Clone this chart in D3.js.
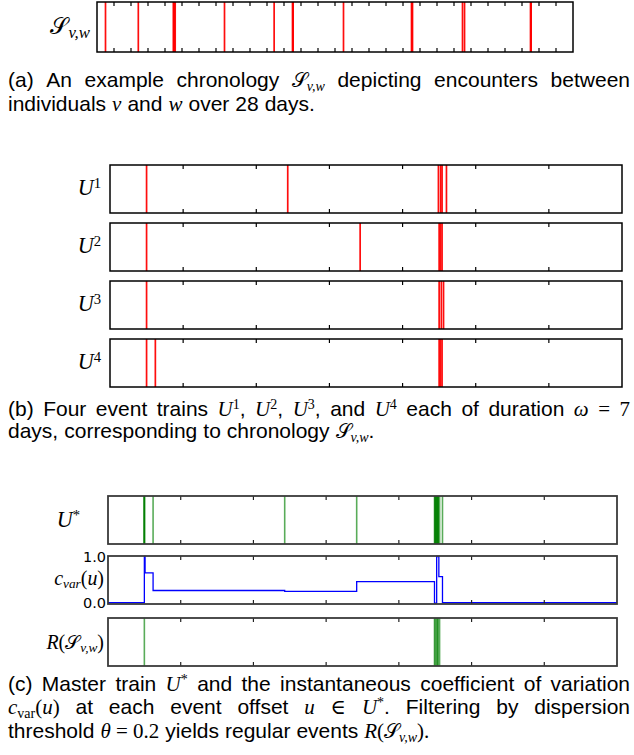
<!DOCTYPE html>
<html><head><meta charset="utf-8">
<script src="https://cdn.jsdelivr.net/npm/d3@7"></script>
<style>
body{margin:0;background:#fff}
svg{display:block}
</style></head>
<body>
<svg id="chart" width="634" height="755"></svg>
<script>
// ---------------- data ----------------
const totalDays = 28;
const omega = 7;
// chronology S_{v,w}: encounter times in days
const chronology = [0.50, 2.43, 4.49, 4.52, 4.54, 4.60, 7.50, 10.42, 11.50, 11.52, 11.54,
  14.50, 18.50, 18.53, 18.56, 21.50, 21.62, 25.50, 25.52, 25.54];
const trainNames = ["1", "2", "3", "4"];
// master train U* offsets
const masterTrain = [0.50, 0.50, 0.50, 0.50, 0.62, 2.43, 3.42,
  4.49, 4.52, 4.54, 4.50, 4.52, 4.54, 4.50, 4.53, 4.56, 4.50, 4.52, 4.54, 4.60];
// instantaneous coefficient of variation (step after)
const cvarU = [0, 0.50, 0.51, 0.62, 2.43, 3.42, 4.49, 4.52, 4.55, 4.60, 7];
const cvarV = [0.01, 1.0, 0.65, 0.27, 0.25, 0.46, 0.0, 1.0, 0.57, 0.01, 0.01];
const cvarTicks = ["0.0", "1.0"];
// regular events R(S_{v,w})
const regularEvents = [0.50, 4.49, 4.50, 4.52, 4.53, 4.54, 4.56];

// ---------------- drawing ----------------
const svg = d3.select("#chart");
const SERIF = "'Liberation Serif','DejaVu Serif',serif";
const SANS = "'Liberation Sans',Arial,sans-serif";
const CAL = "'DejaVu Sans','Noto Sans','Liberation Serif',serif";

function frame(g, x0, y0, x1, y1, col, w) {
  g.append("rect").attr("x", x0).attr("y", y0).attr("width", x1 - x0).attr("height", y1 - y0)
    .attr("fill", "none").attr("stroke", col).attr("stroke-width", w);
}
function ticks(g, x, n, y0, y1, col) {
  const t = d3.range(1, n);
  g.selectAll(null).data(t).join("line")
    .attr("x1", d => x(d)).attr("x2", d => x(d)).attr("y1", y0).attr("y2", y0 + 4)
    .attr("stroke", col).attr("stroke-width", 1.2);
  g.selectAll(null).data(t).join("line")
    .attr("x1", d => x(d)).attr("x2", d => x(d)).attr("y1", y1).attr("y2", y1 - 4)
    .attr("stroke", col).attr("stroke-width", 1.2);
}
function events(g, x, data, y0, y1, col, w, op) {
  g.selectAll(null).data(data).join("line")
    .attr("x1", d => x(d)).attr("x2", d => x(d)).attr("y1", y0).attr("y2", y1)
    .attr("stroke", col).attr("stroke-width", w).attr("stroke-opacity", op);
}

// Rich text: tokens [style, text]
const STY = {
  rm:  {f: SANS, s: 21, it: false, dy: 0},
  mi:  {f: SERIF, s: 21, it: true, dy: 0},
  mr:  {f: SERIF, s: 21, it: false, dy: 0},
  cal: {f: CAL, s: 19.5, it: false, dy: 0},
  sub: {f: SERIF, s: 14, it: true, dy: 3.5},
  subr:{f: SERIF, s: 14, it: false, dy: 3.5},
  sup: {f: SERIF, s: 14, it: false, dy: -7},
};
function addSpans(t, tokens, scale, startX) {
  let cur = 0;
  tokens.forEach(([st, txt], i) => {
    const s = STY[st];
    const target = s.dy * scale;
    const sp = t.append("tspan").attr("dy", target - cur)
      .attr("font-family", s.f).attr("font-size", s.s * scale)
      .attr("font-style", s.it ? "italic" : "normal")
      .style("white-space", "pre")
      .text(txt);
    if (i === 0 && startX != null) sp.attr("x", startX);
    cur = target;
  });
  return cur;
}
function richText(g, tokens, x, y, scale = 1, anchor = "start") {
  const t = g.append("text").attr("x", x).attr("y", y).attr("text-anchor", anchor).attr("fill", "#000");
  addSpans(t, tokens, scale, null);
  return t;
}
function captionLine(words, y, x0, x1, justify) {
  const g = svg.append("g");
  const toks = words.map(w => typeof w === "string" ? [["rm", w]] : w);
  const widths = toks.map(tk => {
    const m = richText(g, tk, 0, y);
    const w = m.node().getComputedTextLength();
    m.remove();
    return w;
  });
  const sum = d3.sum(widths);
  const gap = justify ? (x1 - x0 - sum) / (words.length - 1) : 6;
  const t = g.append("text").attr("y", y).attr("fill", "#000");
  let x = x0, cur = 0;
  toks.forEach((tk, i) => {
    tk.forEach(([st, txt], j) => {
      const s = STY[st];
      const target = s.dy;
      const sp = t.append("tspan").attr("dy", target - cur)
        .attr("font-family", s.f).attr("font-size", s.s)
        .attr("font-style", s.it ? "italic" : "normal")
        .style("white-space", "pre").text(txt);
      if (j === 0) sp.attr("x", x);
      cur = target;
    });
    x += widths[i] + gap;
  });
}

// ---- (a) chronology ----
const xa = d3.scaleLinear().domain([0, totalDays]).range([97, 573]);
const ga = svg.append("g");
events(ga, xa, chronology, 2, 52, "#ff0000", 1.7, 0.95);
ticks(ga, xa, totalDays, 2, 52, "#000");
frame(ga, 97, 2, 573, 52, "#000", 1.5);
richText(ga, [["cal", "𝒮"], ["sub", "v,w"]], 90, 34, 1.2, "end");

captionLine(["(a)", "An", "example", "chronology", [["cal", "𝒮"], ["sub", "v,w"]], "depicting", "encounters", "between"], 87, 8, 630, true);
captionLine(["individuals", [["mi", "v"]], "and", [["mi", "w"]], "over", "28", "days."], 111, 8, 630, false);

// ---- (b) event trains ----
const xb = d3.scaleLinear().domain([0, omega]).range([110, 622]);
trainNames.forEach((nm, k) => {
  const y0 = 165 + k * 58, y1 = y0 + 48;
  const g = svg.append("g");
  const train = chronology.filter(d => d >= k * omega && d < (k + 1) * omega).map(d => d - k * omega);
  events(g, xb, train, y0, y1, "#ff0000", 1.7, 0.95);
  ticks(g, xb, omega, y0, y1, "#000");
  frame(g, 110, y0, 622, y1, "#000", 1.5);
  richText(g, [["mi", "U"], ["sup", nm]], 101, y0 + 30, 1.05, "end");
});

captionLine(["(b)", "Four", "event", "trains", [["mi", "U"], ["sup", "1"], ["rm", ","]], [["mi", "U"], ["sup", "2"], ["rm", ","]],
  [["mi", "U"], ["sup", "3"], ["rm", ","]], "and", [["mi", "U"], ["sup", "4"]], "each", "of", "duration", [["mi", "ω"]], [["mr", "="]], [["mr", "7"]]], 416, 8, 630, true);
captionLine(["days,", "corresponding", "to", "chronology", [["cal", "𝒮"], ["sub", "v,w"], ["rm", "."]]], 438, 8, 630, false);

// ---- (c) ----
const xc = d3.scaleLinear().domain([0, omega]).range([108, 617]);
const FC = "#3a3a3a";
// U*
const gu = svg.append("g");
events(gu, xc, masterTrain, 496, 544, "#008000", 1.6, 0.65);
ticks(gu, xc, omega, 496, 544, "#222");
frame(gu, 108, 496, 617, 544, FC, 1.8);
richText(gu, [["mi", "U"], ["sup", "*"]], 80, 527, 1.05, "end");

// c_var
const gc = svg.append("g");
const yc = d3.scaleLinear().domain([-0.02, 1.0]).range([604, 556.5]);
const pts = cvarU.map((u, i) => [u, cvarV[i]]);
gc.append("path").datum(pts)
  .attr("d", d3.line().x(d => xc(d[0])).y(d => yc(d[1])).curve(d3.curveStepAfter))
  .attr("fill", "none").attr("stroke", "#0000ff").attr("stroke-width", 1.3);
ticks(gc, xc, omega, 556, 604, "#222");
frame(gc, 108, 556, 617, 604, FC, 1.8);
gc.selectAll(null).data(cvarTicks).join("text")
  .attr("x", 106).attr("y", d => yc(+d) + 5).attr("text-anchor", "end")
  .attr("font-family", "'DejaVu Sans',sans-serif").attr("font-size", 14.5).text(d => d);
richText(gc, [["mi", "c"], ["sub", "var"], ["mr", "("], ["mi", "u"], ["mr", ")"]], 104, 585, 0.95, "end");

// R
const gr = svg.append("g");
events(gr, xc, regularEvents, 618, 666, "#008000", 1.6, 0.65);
ticks(gr, xc, omega, 618, 666, "#222");
frame(gr, 108, 618, 617, 666, FC, 1.8);
richText(gr, [["mi", "R"], ["mr", "("], ["cal", "𝒮"], ["sub", "v,w"], ["mr", ")"]], 104, 649, 0.95, "end");

captionLine(["(c)", "Master", "train", [["mi", "U"], ["sup", "*"]], "and", "the", "instantaneous", "coefficient", "of", "variation"], 691, 8, 630, true);
captionLine([[["mi", "c"], ["subr", "var"], ["mr", "("], ["mi", "u"], ["mr", ")"]], "at", "each", "event", "offset", [["mi", "u"]], [["mr", "∈"]],
  [["mi", "U"], ["sup", "*"], ["rm", "."]], "Filtering", "by", "dispersion"], 714, 8, 630, true);
captionLine(["threshold", [["mi", "θ"], ["mr", " = 0.2"]], "yields", "regular", "events", [["mi", "R"], ["mr", "("], ["cal", "𝒮"], ["sub", "v,w"], ["mr", ")."]]], 738, 8, 630, false);
</script>
</body></html>
